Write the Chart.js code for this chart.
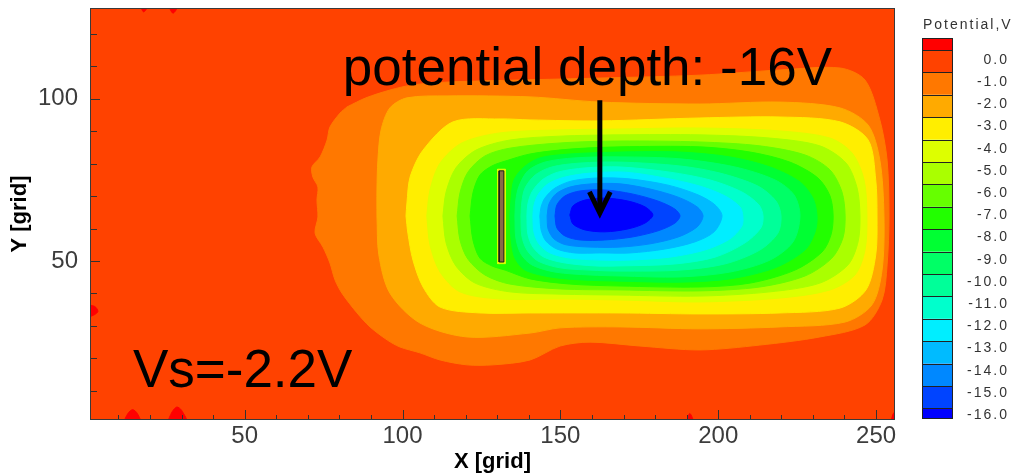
<!DOCTYPE html>
<html>
<head>
<meta charset="utf-8">
<script src="https://cdn.jsdelivr.net/npm/chart.js@4.4.1/dist/chart.umd.min.js"></script>
<style>
html,body{margin:0;padding:0;background:#ffffff;}
#wrap{width:1030px;height:476px;}
</style>
</head>
<body>
<div id="wrap"><canvas id="c" width="1030" height="476"></canvas></div>
<script>
// ---------------- data ----------------
const xTickValues = [50, 100, 150, 200, 250];
const yTickValues = [50, 100];
const levelLabels = ['0.0','-1.0','-2.0','-3.0','-4.0','-5.0','-6.0','-7.0','-8.0','-9.0','-10.0','-11.0','-12.0','-13.0','-14.0','-15.0','-16.0'];
const palette = ['#ff0000','#ff4200','#ff7800','#ffaa00','#ffee00','#ddff00','#aaff00','#66ff00','#22ff00','#00ff33','#00ff66','#00ff99','#00ffcc','#00eeff','#00bbff','#0088ff','#0044ff','#0000ff'];

// contour boundaries (grid units), outermost (-1 V) to innermost (-16 V)
const contourM1 = [[82.4,97.5],[88.4,100.3],[96.0,102.7],[103.3,104.3],[115.0,105.2],[137.2,105.8],[162.5,106.4],[194.2,107.3],[219.6,108.9],[238.6,109.5],[246.5,105.8],[251.2,93.5],[253.5,81.1],[254.1,63.9],[253.5,48.8],[251.9,38.0],[246.5,30.3],[232.2,26.6],[213.2,24.1],[194.2,22.6],[175.2,23.8],[159.4,25.0],[149.9,23.8],[140.4,19.5],[128.7,18.0],[120.4,18.0],[111.9,19.5],[105.5,21.7],[99.2,23.5],[95.1,25.7],[89.7,29.7],[85.6,34.0],[80.8,40.1],[78.6,44.2],[77.0,49.4],[74.8,54.3],[72.3,58.6],[73.2,63.6],[72.9,68.8],[73.2,72.8],[71.6,75.9],[71.3,79.0],[73.9,82.1],[76.1,87.3],[77.0,91.3],[80.2,95.6]];
const contourM2 = [[91.9,63.9],[92.5,51.9],[96.0,40.1],[105.5,30.9],[120.4,26.6],[140.4,27.8],[149.9,29.4],[168.9,29.7],[194.2,29.1],[219.6,29.7],[240.2,31.2],[248.7,36.5],[251.9,47.2],[252.5,63.9],[251.2,81.1],[247.5,91.9],[238.6,97.2],[219.6,99.0],[194.2,98.4],[162.5,99.0],[140.4,100.6],[114.1,100.9],[101.4,100.3],[96.0,97.2],[93.2,90.4],[92.2,81.1],[91.9,71.9]];
const contourM3 = [[101.1,63.9],[101.7,58.6],[103.3,50.3],[106.5,42.0],[111.9,35.8],[124.5,34.0],[140.4,34.0],[168.9,34.0],[194.2,33.7],[219.6,34.0],[238.6,35.5],[246.8,41.1],[249.9,51.9],[250.3,63.9],[249.9,75.0],[247.5,87.3],[238.6,92.9],[219.6,94.4],[194.2,94.1],[162.5,93.2],[140.4,93.5],[130.9,93.8],[116.0,92.9],[106.5,84.2],[102.4,75.9],[101.4,67.9]];
const contourM4 = [[107.7,63.9],[108.7,55.0],[111.9,46.6],[118.2,40.5],[130.9,38.3],[149.9,38.3],[168.9,38.0],[194.2,37.4],[219.6,38.6],[235.4,41.1],[243.3,45.7],[246.5,53.4],[247.1,63.9],[246.2,75.0],[242.4,83.3],[235.4,87.9],[219.6,90.1],[194.2,91.0],[168.9,90.7],[149.9,90.4],[130.9,89.5],[118.8,86.4],[111.9,80.2],[108.7,71.9]];
const contourM5 = [[112.8,63.9],[113.8,55.6],[116.9,48.5],[123.0,43.2],[134.0,40.5],[149.9,39.8],[168.9,39.5],[194.2,39.2],[216.4,40.5],[232.2,43.2],[241.1,48.8],[244.3,55.9],[244.9,63.9],[244.0,72.5],[240.5,80.2],[232.2,85.5],[216.4,87.9],[194.2,88.9],[168.9,88.9],[149.9,88.5],[134.0,87.3],[123.3,84.2],[116.9,78.7],[113.8,71.3]];
const contourM6 = [[117.3,63.9],[118.2,56.5],[120.7,50.6],[126.1,45.7],[134.0,42.9],[149.9,41.4],[168.9,41.1],[194.2,40.8],[213.2,42.0],[227.5,45.4],[236.0,50.9],[239.5,57.1],[240.2,63.9],[239.2,71.3],[235.4,78.1],[227.5,82.7],[213.2,85.5],[194.2,86.7],[168.9,87.0],[149.9,86.4],[134.0,84.8],[126.1,82.4],[120.7,77.4],[118.2,71.0]];
const contourM7 = [[121.4,63.9],[122.3,56.5],[124.5,50.9],[128.3,48.5],[132.5,47.2],[140.4,44.5],[153.0,42.9],[168.9,42.3],[194.2,42.0],[210.1,43.2],[224.3,47.2],[232.9,52.8],[235.7,58.0],[236.4,63.9],[235.4,70.1],[231.6,75.6],[222.7,80.5],[210.1,83.6],[194.2,85.2],[168.9,85.2],[153.0,84.5],[140.4,83.0],[132.5,80.8],[128.3,79.3],[124.5,76.5],[122.3,71.0]];
const contourM8 = [[134.0,63.9],[134.4,56.5],[135.6,50.9],[138.8,47.2],[146.7,45.1],[156.2,44.2],[168.9,43.8],[187.9,43.5],[203.7,44.5],[218.0,47.9],[227.5,53.4],[230.7,59.0],[231.3,63.9],[230.0,69.4],[225.9,74.4],[216.4,79.0],[203.7,82.1],[187.9,83.6],[168.9,83.6],[153.0,83.0],[143.5,81.8],[138.5,79.0],[135.3,75.0],[134.4,69.4]];
const contourM9 = [[135.6,63.9],[135.9,57.1],[137.5,52.2],[141.0,48.8],[148.3,46.6],[159.4,45.7],[168.9,45.4],[187.9,45.1],[203.7,46.6],[216.4,50.3],[223.7,55.9],[225.9,63.9],[224.0,70.4],[218.0,75.0],[205.3,79.0],[187.9,81.5],[168.9,82.1],[154.6,81.8],[145.1,80.5],[139.7,77.8],[136.9,73.1],[135.9,68.8]];
const contourM10 = [[137.5,63.9],[137.8,57.7],[139.4,53.4],[142.9,50.0],[149.9,47.9],[159.4,47.2],[168.9,46.9],[187.9,47.2],[202.1,49.1],[213.2,53.4],[218.9,58.6],[219.9,63.9],[218.3,68.5],[212.6,73.1],[200.6,77.1],[187.9,79.3],[168.9,80.5],[156.2,80.2],[147.3,79.0],[142.0,76.5],[138.8,72.5],[137.8,68.2]];
const contourM11 = [[139.4,63.9],[139.7,58.3],[141.3,54.3],[144.8,51.2],[151.5,49.4],[161.0,48.5],[168.9,48.5],[186.3,49.1],[199.0,51.2],[208.5,55.6],[213.5,60.2],[214.2,63.9],[212.9,67.3],[207.5,71.3],[197.4,75.0],[184.7,77.4],[168.9,79.0],[157.8,78.7],[149.2,77.4],[144.2,75.0],[141.0,71.3],[139.7,67.6]];
const contourM12 = [[141.3,63.9],[141.6,59.0],[143.2,55.3],[146.7,52.5],[153.0,50.9],[162.5,50.3],[172.1,50.3],[184.7,51.2],[195.8,53.4],[203.7,56.8],[207.5,60.8],[207.8,63.9],[206.9,66.7],[202.1,70.1],[194.2,73.1],[183.1,75.6],[170.5,77.4],[159.4,77.1],[151.5,75.9],[146.1,73.8],[142.9,70.4],[141.6,67.0]];
const contourM13 = [[143.5,63.9],[143.9,59.6],[145.4,56.2],[148.9,53.7],[154.6,52.5],[162.5,52.5],[172.1,52.5],[183.1,53.7],[192.6,55.9],[198.7,59.0],[201.2,63.9],[199.0,67.3],[193.6,70.4],[184.1,73.4],[172.1,75.3],[161.9,75.6],[153.7,74.7],[148.3,72.5],[145.1,69.4],[143.9,66.7]];
const contourM14 = [[145.8,63.9],[146.1,59.9],[148.0,56.8],[151.8,55.0],[159.4,54.3],[168.9,54.3],[178.4,55.3],[187.3,57.4],[193.3,60.5],[195.2,63.9],[193.3,66.7],[187.3,69.7],[178.4,72.2],[168.9,73.8],[160.0,73.8],[153.0,72.8],[148.6,70.7],[146.4,67.6]];
const contourM15 = [[148.3,63.9],[148.9,60.2],[151.5,57.7],[156.2,56.5],[164.1,56.5],[172.7,57.4],[180.9,59.3],[186.3,61.7],[187.9,63.9],[186.3,66.0],[180.9,68.5],[172.7,70.7],[164.1,71.9],[156.2,71.6],[151.5,70.1],[148.9,67.3]];
const contourM16 = [[153.0,64.2],[154.0,61.4],[157.8,59.6],[164.1,59.0],[171.4,59.9],[176.8,61.7],[179.3,64.2],[176.8,66.7],[171.4,68.5],[164.1,69.4],[157.8,68.8],[154.0,67.0]];

// small spots above 0 V near the domain edges
const redSpot1 = [[11.5,0],[13,3],[14.5,4.2],[16,3],[17,0]];
const redSpot2 = [[25.4,0],[27,3.5],[28.5,5.0],[30,4],[31.7,0]];
const redSpot3 = [[0,32.5],[2.5,33.5],[3.5,34.5],[2.5,36],[0,36.2]];
const redSpot4 = [[16.8,129],[18,126.8],[19.4,129]];
const redSpot5 = [[25.7,129],[27.3,126.4],[28.9,129]];
const redSpot6 = [[189.8,0],[191,3],[192.2,0]];
const redSpot7 = [[254.6,0],[255.6,3.2],[257,3.2],[257,0]];

// electrode (rod) and its halo, arrow, labels
const rodX = [130.6, 132.1];
const rodY = [49.7, 77.8];
const haloX = [130.1, 132.6];
const haloY = [49.2, 78.3];
const arrowX = 162.5;
const arrowY = [99.6, 64.8];
const arrowWingX = [159.2, 165.8];
const arrowWingY = 71.3;
const annotations = [
  {text: 'potential depth: -16V', x: 81.1, y: 104.3},
  {text: 'Vs=-2.2V', x: 14.6, y: 11.2}
];

// ---------------- build datasets ----------------
const toPts = arr => arr.map(p => ({x: p[0], y: p[1]}));
const closed = arr => toPts(arr.concat([arr[0]]));
function area(arr, color, tension) {
  return {data: closed(arr), showLine: true, fill: 'shape', backgroundColor: color,
          borderColor: color, borderWidth: 1, tension: tension, pointRadius: 0, pointHitRadius: 0};
}
const contours = [contourM1,contourM2,contourM3,contourM4,contourM5,contourM6,contourM7,contourM8,
                  contourM9,contourM10,contourM11,contourM12,contourM13,contourM14,contourM15,contourM16];
const layers = [];
[redSpot1,redSpot2,redSpot3,redSpot4,redSpot5,redSpot6,redSpot7].forEach(s => layers.push(area(s, palette[0], 0.3)));
contours.forEach((c, i) => layers.push(area(c, palette[i + 2], 0.3)));
const haloPoly = [[haloX[0],haloY[0]],[haloX[1],haloY[0]],[haloX[1],haloY[1]],[haloX[0],haloY[1]]];
layers.push(area(haloPoly, palette[5], 0));
const rodPoly = [[rodX[0],rodY[0]],[rodX[1],rodY[0]],[rodX[1],rodY[1]],[rodX[0],rodY[1]]];
layers.push({data: closed(rodPoly), showLine: true, fill: 'shape', backgroundColor: '#8a6a48',
             borderColor: '#1a1a1a', borderWidth: 1, tension: 0, pointRadius: 0, pointHitRadius: 0});
layers.push({data: [{x: arrowX, y: arrowY[0]}, {x: arrowX, y: arrowY[1] + 1.5}], showLine: true, fill: false,
             borderColor: '#000', borderWidth: 5, tension: 0, pointRadius: 0, pointHitRadius: 0, borderCapStyle: 'butt'});
layers.push({data: [{x: arrowWingX[0], y: arrowWingY}, {x: arrowX, y: arrowY[1]}, {x: arrowWingX[1], y: arrowWingY}],
             showLine: true, fill: false, borderColor: '#000', borderWidth: 5, tension: 0, pointRadius: 0,
             pointHitRadius: 0, borderJoinStyle: 'miter', borderCapStyle: 'butt'});
const datasets = layers.map((d, i) => Object.assign(d, {order: layers.length - i}));

// ---------------- plugins ----------------
const FONT = '"Liberation Sans", Arial, Helvetica, sans-serif';
const bgPlugin = {
  id: 'bg',
  beforeDraw(chart) {
    const {ctx, chartArea: a} = chart;
    ctx.save();
    ctx.fillStyle = palette[1];
    ctx.fillRect(a.left, a.top, a.right - a.left, a.bottom - a.top);
    ctx.restore();
  }
};
const overlayPlugin = {
  id: 'overlay',
  afterDatasetsDraw(chart) {
    const {ctx, chartArea: a, scales} = chart;
    const sx = scales.x, sy = scales.y;
    ctx.save();
    ctx.strokeStyle = '#333';
    ctx.lineWidth = 1;
    ctx.beginPath();
    for (let v = 10; v <= 250; v += 10) {
      const px = Math.round(sx.getPixelForValue(v)) + 0.5;
      const len = v % 50 === 0 ? 10 : 5;
      ctx.moveTo(px, a.bottom); ctx.lineTo(px, a.bottom - len);
    }
    for (let v = 10; v <= 120; v += 10) {
      const py = Math.round(sy.getPixelForValue(v)) + 0.5;
      const len = v % 50 === 0 ? 10 : 7;
      ctx.moveTo(a.left, py); ctx.lineTo(a.left + len, py);
    }
    ctx.stroke();
    ctx.strokeStyle = '#3a3a3a';
    ctx.strokeRect(a.left + 0.5, a.top + 0.5, a.right - a.left - 1, a.bottom - a.top - 1);
    ctx.fillStyle = '#000';
    ctx.font = '53px ' + FONT;
    ctx.textAlign = 'left';
    ctx.textBaseline = 'alphabetic';
    annotations.forEach(t => ctx.fillText(t.text, sx.getPixelForValue(t.x), sy.getPixelForValue(t.y)));
    ctx.restore();
  },
  afterDraw(chart) {
    const ctx = chart.ctx;
    ctx.save();
    const bx = 922, bw = 30;
    const tops = [38.3, 50];
    for (let k = 1; k < palette.length; k++) tops.push(50 + k * 22.4);
    tops[palette.length] = 418.3;
    for (let k = 0; k < palette.length; k++) {
      ctx.fillStyle = palette[k];
      ctx.fillRect(bx, tops[k], bw, tops[k + 1] - tops[k]);
    }
    ctx.strokeStyle = '#222';
    ctx.lineWidth = 1;
    ctx.beginPath();
    for (let k = 0; k <= palette.length; k++) {
      const yy = Math.round(tops[k]) + 0.5;
      ctx.moveTo(bx, yy); ctx.lineTo(bx + bw, yy);
    }
    ctx.moveTo(bx + 0.5, Math.round(tops[0])); ctx.lineTo(bx + 0.5, Math.round(tops[palette.length]) + 1);
    ctx.moveTo(bx + bw + 0.5, Math.round(tops[0])); ctx.lineTo(bx + bw + 0.5, Math.round(tops[palette.length]) + 1);
    ctx.stroke();
    try { ctx.letterSpacing = '2px'; } catch (e) {}
    ctx.fillStyle = '#333';
    ctx.font = '14px ' + FONT;
    ctx.textBaseline = 'middle';
    ctx.textAlign = 'left';
    ctx.fillText('Potential,V', 923, 25);
    ctx.textAlign = 'right';
    levelLabels.forEach((lab, k) => ctx.fillText(lab, 1009, 60 + k * 22.2));
    ctx.restore();
  }
};

// ---------------- chart ----------------
Chart.defaults.font.family = FONT;
new Chart(document.getElementById('c'), {
  type: 'scatter',
  data: {datasets: datasets},
  options: {
    responsive: false,
    animation: false,
    devicePixelRatio: 1,
    layout: {padding: {left: 0, right: 135, top: 8, bottom: 0}},
    plugins: {legend: {display: false}, tooltip: {enabled: false}},
    scales: {
      x: {
        type: 'linear', min: 1, max: 256,
        afterBuildTicks: s => { s.ticks = xTickValues.map(v => ({value: v})); },
        afterFit: s => { s.height = 56; s.paddingLeft = 0; s.paddingRight = 0; s.paddingTop = 0; s.paddingBottom = 0; },
        grid: {display: false, drawTicks: false},
        border: {display: false},
        ticks: {padding: 2, color: '#3c3c3c', autoSkip: false, maxRotation: 0, font: {size: 24}},
        title: {display: true, text: 'X [grid]', color: '#000', font: {size: 22, weight: 'bold'}, padding: {top: 0, bottom: 1}}
      },
      y: {
        type: 'linear', min: 1, max: 128,
        afterBuildTicks: s => { s.ticks = yTickValues.map(v => ({value: v})); },
        afterFit: s => { s.width = 90; s.paddingTop = 0; s.paddingBottom = 0; s.paddingLeft = 0; s.paddingRight = 0; },
        grid: {display: false, drawTicks: false},
        border: {display: false},
        ticks: {padding: 12, color: '#3c3c3c', autoSkip: false, font: {size: 24}},
        title: {display: true, text: 'Y [grid]', color: '#000', font: {size: 22, weight: 'bold'}, padding: {top: 7, bottom: 0}}
      }
    }
  },
  plugins: [bgPlugin, overlayPlugin]
});
</script>
</body>
</html>
